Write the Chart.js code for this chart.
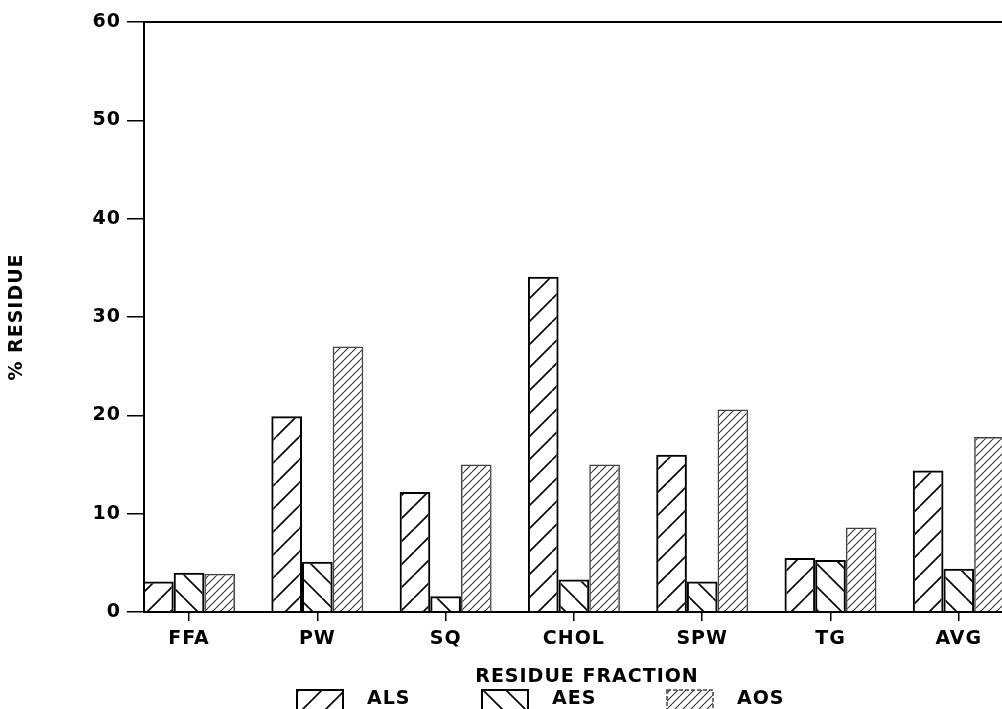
<!DOCTYPE html>
<html>
<head>
<meta charset="utf-8">
<script src="https://cdn.jsdelivr.net/npm/chart.js@4/dist/chart.umd.min.js"></script>
<style>
html, body { margin: 0; padding: 0; overflow: hidden; background: #fff; }
#wrap { width: 1040px; height: 709px; }
</style>
</head>
<body>
<div id="wrap"><canvas id="chart1" width="1040" height="709"></canvas></div>
<script>
// data
var categories = ["FFA", "PW", "SQ", "CHOL", "SPW", "TG", "AVG"];
var als = [3.1, 19.9, 12.2, 34.1, 16.0, 5.5, 14.4];
var aes = [4.0, 5.1, 1.6, 3.3, 3.1, 5.3, 4.4];
var aos = [3.9, 27.0, 15.0, 15.0, 20.6, 8.6, 17.8];
var seriesNames = ["ALS", "AES", "AOS"];
var yTicks = [0, 10, 20, 30, 40, 50, 60];

var FONT = { family: "DejaVu Sans", size: 19, weight: "bold" };
var SPACING = "1px";

// hatch pattern: dir 1 = "/", dir -1 = "\"
function hatch(size, dir, width, color) {
  var c = document.createElement("canvas");
  c.width = size;
  c.height = size;
  var g = c.getContext("2d");
  g.strokeStyle = color;
  g.lineWidth = width;
  g.beginPath();
  for (var k = -size; k <= size; k += size) {
    if (dir > 0) {
      g.moveTo(k, size);
      g.lineTo(k + size, 0);
    } else {
      g.moveTo(k, 0);
      g.lineTo(k + size, size);
    }
  }
  g.stroke();
  return g.createPattern(c, "repeat");
}

function toPoints(arr) {
  return arr.map(function (v, i) {
    return { x: i, y: v };
  });
}

const ctx = document.getElementById("chart1");

var myChart = new Chart(ctx, {
  type: "bar",
  data: {
    datasets: [
      {
        label: seriesNames[0],
        data: toPoints(als),
        backgroundColor: hatch(23, 1, 1.6, "#000"),
        borderColor: "#000",
        borderWidth: 2,
      },
      {
        label: seriesNames[1],
        data: toPoints(aes),
        backgroundColor: hatch(23, -1, 1.6, "#000"),
        borderColor: "#000",
        borderWidth: 2,
      },
      {
        label: seriesNames[2],
        data: toPoints(aos),
        backgroundColor: hatch(8, 1, 1.1, "#333"),
        borderColor: "#444",
        borderWidth: 1.5,
      },
    ],
  },
  options: {
    responsive: false,
    animation: false,
    events: [],
    categoryPercentage: 0.717,
    barPercentage: 1,
    layout: { padding: { top: 22, right: 10, left: 0, bottom: 0 } },
    plugins: {
      legend: { display: false },
      tooltip: { enabled: false },
    },
    scales: {
      x: {
        type: "linear",
        bounds: "data",
        min: -0.351,
        max: 6.555,
        offset: false,
        afterBuildTicks: function (scale) {
          scale.ticks = categories.map(function (c, i) {
            return { value: i };
          });
        },
        afterFit: function (scale) {
          scale.height = 97;
        },
        grid: {
          display: true,
          offset: false,
          drawOnChartArea: false,
          drawTicks: true,
          tickLength: 9,
          color: "#000",
          lineWidth: 1.5,
        },
        border: { display: true, color: "#000", width: 2 },
        ticks: {
          autoSkip: false,
          maxRotation: 0,
          padding: 7,
          color: "#000",
          font: FONT,
          callback: function (value) {
            return categories[value];
          },
        },
        title: {
          display: true,
          text: "RESIDUE FRACTION",
          color: "#000",
          font: FONT,
          padding: { top: 0, bottom: 21 },
        },
      },
      y: {
        min: 0,
        max: 60,
        afterBuildTicks: function (scale) {
          scale.ticks = yTicks.map(function (v) {
            return { value: v };
          });
        },
        afterFit: function (scale) {
          scale.width = 144;
        },
        grid: {
          display: true,
          drawOnChartArea: false,
          drawTicks: true,
          tickLength: 17,
          color: "#000",
          lineWidth: 1.5,
        },
        border: { display: true, color: "#000", width: 2 },
        ticks: {
          padding: 6,
          color: "#000",
          font: FONT,
        },
        title: {
          display: true,
          text: "% RESIDUE",
          color: "#000",
          font: FONT,
          padding: { top: 6, bottom: 0 },
        },
      },
    },
  },
  plugins: [
    {
      id: "letterSpacing",
      beforeLayout: function (chart) {
        chart.ctx.letterSpacing = SPACING;
      },
      beforeDraw: function (chart) {
        chart.ctx.letterSpacing = SPACING;
      },
    },
    {
      id: "frame",
      afterDraw: function (chart) {
        var c = chart.ctx;
        var a = chart.chartArea;
        c.save();
        c.strokeStyle = "#000";
        c.lineWidth = 2;
        c.beginPath();
        c.moveTo(a.left, a.top);
        c.lineTo(a.right, a.top);
        c.lineTo(a.right, a.bottom);
        c.stroke();
        c.restore();
      },
    },
    {
      // legend under the axis title, boxes filled with the same hatches
      id: "hatchLegend",
      afterDraw: function (chart) {
        var c = chart.ctx;
        var legendX = [297, 482, 667];
        chart.data.datasets.forEach(function (ds, i) {
          var x = legendX[i];
          var y = 690;
          c.save();
          c.fillStyle = ds.backgroundColor;
          c.fillRect(x, y, 46, 22);
          c.lineWidth = ds.borderWidth;
          c.strokeStyle = ds.borderColor;
          if (i === 2) c.setLineDash([4, 2]);
          c.strokeRect(x, y, 46, 22);
          c.setLineDash([]);
          c.letterSpacing = SPACING;
          c.font = 'bold 19px "DejaVu Sans"';
          c.fillStyle = "#000";
          c.textBaseline = "middle";
          c.textAlign = "left";
          c.fillText(ds.label, x + 70, y + 9);
          c.restore();
        });
      },
    },
  ],
});
</script>
</body>
</html>
